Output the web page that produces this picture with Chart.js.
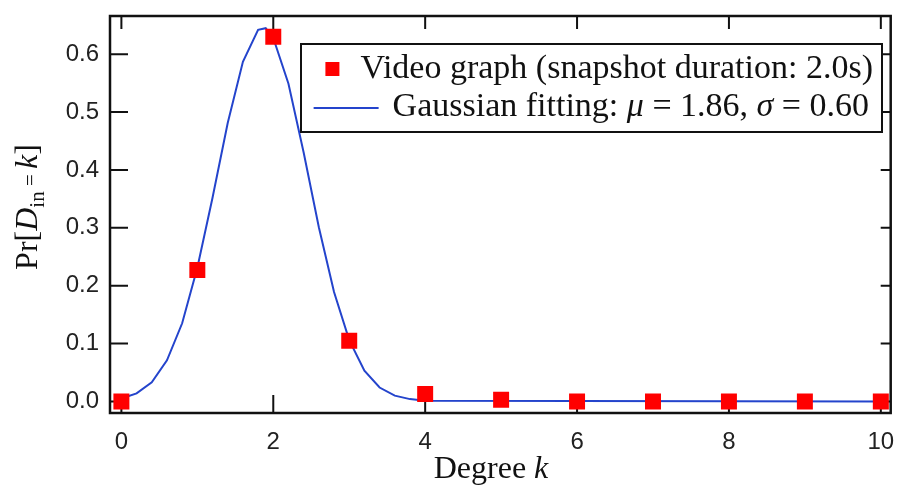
<!DOCTYPE html>
<html>
<head>
<meta charset="utf-8">
<title>In-degree distribution</title>
<script src="https://cdn.jsdelivr.net/npm/chart.js@4.4.0/dist/chart.umd.min.js"></script>
<style>
    html, body { margin: 0; padding: 0; background: #fff; }
</style>
</head>
<body>
<canvas id="degreeChart" width="902" height="487"></canvas>
<script>
// ==========================================
// DATA
// ==========================================

const degrees   = [0, 1, 2, 3, 4, 5, 6, 7, 8, 9, 10];
const videoProb = [0.0, 0.227, 0.630, 0.105, 0.013, 0.003, 0.0, 0.0, 0.0, 0.0, 0.0];

// fitted curve
const fitX = [0, 0.2, 0.4, 0.6, 0.8, 1.0, 1.2, 1.4, 1.6, 1.8, 1.9, 2.0, 2.2, 2.4, 2.6, 2.8, 3.0, 3.2, 3.4, 3.6, 3.8, 4.0, 10];
const fitY = [0.005, 0.014, 0.033, 0.071, 0.135, 0.231, 0.352, 0.481, 0.587, 0.642, 0.645, 0.628, 0.549, 0.430, 0.301, 0.189, 0.106, 0.053, 0.024, 0.010, 0.004, 0.001, 0.0];

const xTicks = [0, 2, 4, 6, 8, 10];
const yTicks = [0.0, 0.1, 0.2, 0.3, 0.4, 0.5, 0.6];

const legendLabels = ['Video graph (snapshot duration: 2.0s)', 'Gaussian fitting'];

// ==========================================
// STYLE
// ==========================================

const SERIF = '"Liberation Serif", "DejaVu Serif", serif';
const SANS = '"Liberation Sans", Arial, sans-serif';
const RED = '#ff0000';
const BLUE = '#2444cc';
const INK = '#111';

// draws a row of text pieces (some italic / subscript), returns width
function drawRuns(ctx, runs, x, y, measureOnly) {
    let cx = x;
    runs.forEach(r => {
        ctx.font = (r.italic ? 'italic ' : '') + r.size + 'px ' + SERIF;
        if (!measureOnly) ctx.fillText(r.t, cx, y + (r.dy || 0));
        cx += ctx.measureText(r.t).width;
    });
    return cx - x;
}

// ==========================================
// FRAME, INWARD TICKS, TITLES, LEGEND
// ==========================================

const frameTicks = {
    id: 'frameTicks',
    beforeDatasetsDraw(chart) {
        const { ctx, chartArea: a, scales: { x, y } } = chart;
        ctx.save();
        ctx.strokeStyle = INK;
        ctx.lineWidth = 2;
        ctx.beginPath();
        xTicks.forEach(v => {
            const px = x.getPixelForValue(v);
            ctx.moveTo(px, a.bottom); ctx.lineTo(px, a.bottom - 18);
            ctx.moveTo(px, a.top); ctx.lineTo(px, a.top + 13);
        });
        yTicks.forEach(v => {
            const py = y.getPixelForValue(v);
            ctx.moveTo(a.left, py); ctx.lineTo(a.left + 18, py);
            ctx.moveTo(a.right, py); ctx.lineTo(a.right - 10, py);
        });
        ctx.stroke();
        ctx.restore();
    },
    afterDraw(chart) {
        const { ctx, chartArea: a } = chart;
        ctx.save();

        // box
        ctx.strokeStyle = INK;
        ctx.lineWidth = 2.5;
        ctx.strokeRect(a.left, a.top, a.right - a.left, a.bottom - a.top);

        ctx.fillStyle = INK;
        ctx.textBaseline = 'alphabetic';

        // x title
        const xRuns = [
            { t: 'Degree ', size: 32 },
            { t: 'k', size: 32, italic: true }
        ];
        const xw = drawRuns(ctx, xRuns, 0, 0, true);
        drawRuns(ctx, xRuns, 491 - xw / 2, 478);

        // y title (rotated)
        const yRuns = [
            { t: 'Pr[', size: 32 },
            { t: 'D', size: 32, italic: true },
            { t: 'in', size: 21, dy: 7 },
            { t: ' = ', size: 21 },
            { t: 'k', size: 32, italic: true },
            { t: ']', size: 32 }
        ];
        const yw = drawRuns(ctx, yRuns, 0, 0, true);
        ctx.save();
        ctx.translate(37, 207);
        ctx.rotate(-Math.PI / 2);
        drawRuns(ctx, yRuns, -yw / 2, 0);
        ctx.restore();

        // legend
        const bx = 301, by = 44, bw = 882 - bx, bh = 88;
        ctx.fillStyle = '#fff';
        ctx.fillRect(bx, by, bw, bh);
        ctx.lineWidth = 2;
        ctx.strokeRect(bx, by, bw, bh);

        ctx.fillStyle = INK;
        const textRight = bx + bw - 9;
        const row1 = [{ t: legendLabels[0], size: 34 }];
        const row2 = [
            { t: legendLabels[1] + ': ', size: 34 },
            { t: 'μ', size: 34, italic: true },
            { t: ' = 1.86, ', size: 34 },
            { t: 'σ', size: 34, italic: true },
            { t: ' = 0.60', size: 34 }
        ];
        const w1 = drawRuns(ctx, row1, 0, 0, true);
        const w2 = drawRuns(ctx, row2, 0, 0, true);
        const y1 = by + 34, y2 = by + 72;
        drawRuns(ctx, row1, textRight - w1, y1);
        drawRuns(ctx, row2, textRight - w2 - 4, y2);

        // symbols
        const ds = chart.data.datasets;
        ctx.fillStyle = ds[0].backgroundColor;
        ctx.fillRect(textRight - w1 - 35, y1 - 16, 14, 14);
        ctx.strokeStyle = ds[1].borderColor;
        ctx.lineWidth = 2;
        ctx.beginPath();
        ctx.moveTo(textRight - w2 - 4 - 79, y2 - 8);
        ctx.lineTo(textRight - w2 - 4 - 14, y2 - 8);
        ctx.stroke();

        ctx.restore();
    }
};

// ==========================================
// CHART
// ==========================================

function initDegreeChart() {
    const ctx = document.getElementById('degreeChart');

    new Chart(ctx, {
        type: 'scatter',
        data: {
            datasets: [{
                label: legendLabels[0],
                data: degrees.map((k, i) => ({ x: k, y: videoProb[i] })),
                pointStyle: 'rect',
                pointRadius: 11.3,
                pointBorderWidth: 0,
                backgroundColor: RED,
                borderColor: RED,
                order: 0
            }, {
                label: legendLabels[1],
                data: fitX.map((v, i) => ({ x: v, y: fitY[i] })),
                showLine: true,
                borderColor: BLUE,
                borderWidth: 2,
                pointRadius: 0,
                tension: 0,
                order: 1
            }]
        },
        options: {
            responsive: false,
            animation: false,
            layout: { padding: { top: 16, right: 5, left: 0, bottom: 0 } },
            plugins: {
                legend: { display: false },
                tooltip: { enabled: false }
            },
            scales: {
                x: {
                    type: 'linear',
                    min: -0.15,
                    max: 10.13,
                    grid: { display: false, drawTicks: false },
                    border: { display: false },
                    afterBuildTicks: s => { s.ticks = xTicks.map(v => ({ value: v })); },
                    ticks: {
                        font: { family: SANS, size: 24 },
                        color: '#222',
                        padding: 15,
                        maxRotation: 0,
                        callback: v => String(v)
                    },
                    afterFit: s => { s.height = 74; s.paddingLeft = 0; s.paddingRight = 0; }
                },
                y: {
                    type: 'linear',
                    min: -0.02,
                    max: 0.666,
                    grid: { display: false, drawTicks: false },
                    border: { display: false },
                    afterBuildTicks: s => { s.ticks = yTicks.map(v => ({ value: v })); },
                    ticks: {
                        font: { family: SANS, size: 24 },
                        color: '#222',
                        padding: 11,
                        callback: v => v.toFixed(1)
                    },
                    afterFit: s => { s.width = 110; s.paddingTop = 0; s.paddingBottom = 0; }
                }
            }
        },
        plugins: [frameTicks]
    });
}

document.addEventListener('DOMContentLoaded', initDegreeChart);
</script>
</body>
</html>
